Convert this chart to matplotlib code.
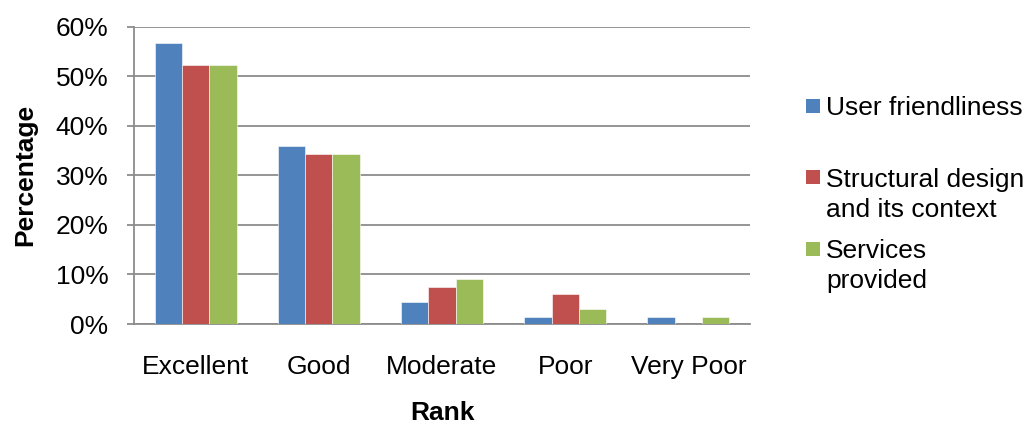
import matplotlib
matplotlib.use("Agg")
import matplotlib.pyplot as plt
from matplotlib.patches import Rectangle
from matplotlib.ticker import FuncFormatter
import numpy as np

plt.rcParams['font.family'] = ['Liberation Sans', 'DejaVu Sans']

# Survey responses (share of respondents, %)
ranks = ["Excellent", "Good", "Moderate", "Poor", "Very Poor"]
series_names = ["User friendliness", "Structural design\nand its context", "Services\nprovided"]
user_friendliness = [56.7, 35.8, 4.5, 1.5, 1.5]
structural_design = [52.2, 34.3, 7.5, 6.0, 0.0]
services_provided = [52.2, 34.3, 9.0, 3.0, 1.5]
y_ticks = [0, 10, 20, 30, 40, 50, 60]

colors = ["#4F81BD", "#C0504D", "#9BBB59"]
W, H = 1030, 425
fig = plt.figure(figsize=(W / 100, H / 100), dpi=100)
ax = fig.add_axes([134 / W, 1 - 324 / H, (750 - 134) / W, (324 - 26.5) / H])

x = np.arange(len(ranks))
bw = 0.222
for i, (vals, c) in enumerate(zip([user_friendliness, structural_design, services_provided], colors)):
    ax.bar(x + (i - 1) * bw, vals, bw, color=c, edgecolor="white", linewidth=0.4, zorder=3)

ax.set_xlim(-0.5, len(ranks) - 0.5)
ax.set_ylim(0, 60)
ax.set_yticks(y_ticks)
ax.yaxis.set_major_formatter(FuncFormatter(lambda v, p: f"{v:.0f}%"))
ax.yaxis.grid(True, color="#8c8c8c", linewidth=1.3, zorder=0)
ax.set_axisbelow(True)
for s in ["top", "right"]:
    ax.spines[s].set_visible(False)
ax.spines["left"].set_color("#8c8c8c")
ax.spines["left"].set_linewidth(1.3)
ax.spines["bottom"].set_color("#8c8c8c")
ax.spines["bottom"].set_linewidth(1.3)

ax.set_xticks(x)
ax.set_xticklabels(ranks)
ax.tick_params(axis="x", length=0, pad=22, labelsize=19)
ax.tick_params(axis="y", length=5, width=1.3, color="#8c8c8c", pad=13.5, labelsize=19)

ax.set_xlabel("Rank", fontsize=19, fontweight="bold")
ax.xaxis.set_label_coords(0.5, (324 - 413) / 297.5)
ax.xaxis.label.set_va("center")
ax.set_ylabel("Percentage", fontsize=19, fontweight="bold")
ax.yaxis.set_label_coords((25 - 134) / 616, 0.5)
ax.yaxis.label.set_va("center")

# Legend drawn to the right of the plot area, one text per line
sq_tops = [99.3, 170.0, 242.3]
baselines = [115.0, 186.7, 258.3]
line_step = 30.0
for name, c, top, base in zip(series_names, colors, sq_tops, baselines):
    fig.patches.append(Rectangle((806 / W, 1 - (top + 13.5) / H), 14 / W, 13.5 / H,
                                 transform=fig.transFigure, facecolor=c, edgecolor="none"))
    for k, line in enumerate(name.split("\n")):
        fig.text(826 / W, 1 - (base + k * line_step) / H, line, fontsize=19,
                 va="baseline", ha="left")

fig.savefig("out.png", dpi=100)
